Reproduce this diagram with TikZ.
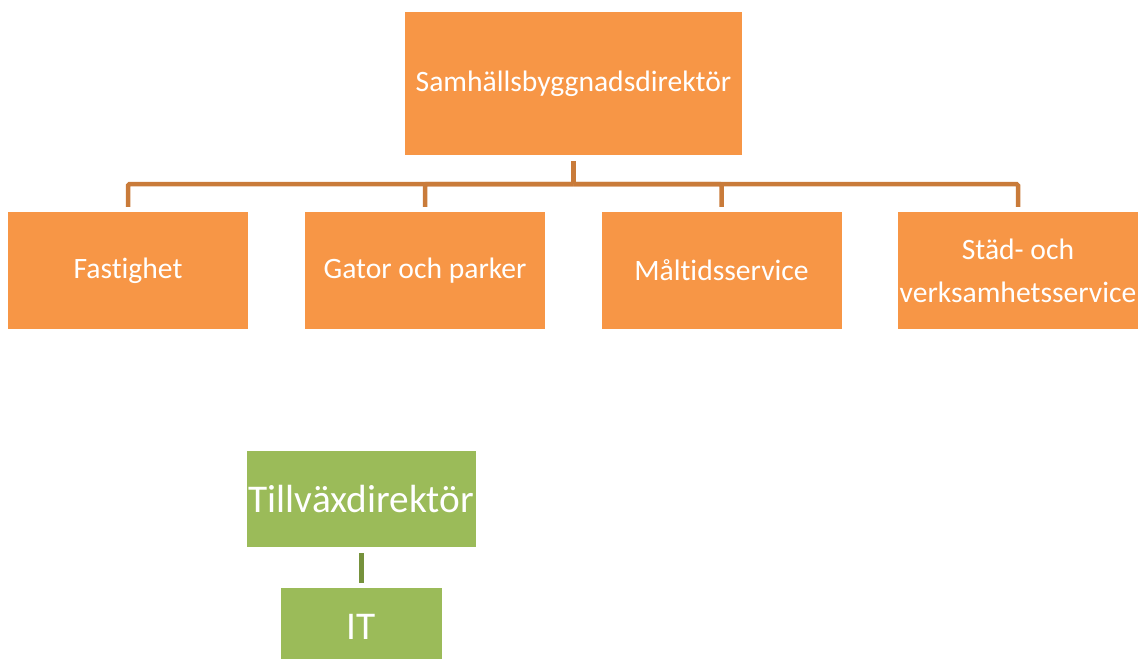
\documentclass[tikz,border=0pt]{standalone}
\usepackage{fontspec}
\setmainfont{Carlito}[Ligatures=NoCommon]
\definecolor{orangebox}{HTML}{F79646}
\definecolor{orangeline}{HTML}{C97B3A}
\definecolor{greenbox}{HTML}{9BBB59}
\definecolor{greenline}{HTML}{76923C}

\begin{document}
\begin{tikzpicture}[x=1pt,y=-1pt,
  obox/.style={fill=orangebox,text=white,inner sep=0pt,align=center,
    font=\fontsize{29.6}{43}\selectfont},
  gbox/.style={fill=greenbox,text=white,inner sep=0pt,align=center,
    font=\fontsize{39.3}{46}\selectfont},
  olink/.style={draw=orangeline,line width=4.5pt,rounded corners=1.5pt},
  glink/.style={draw=greenline,line width=5.5pt}]
  \useasboundingbox (0,0) rectangle (1139,658);
  \clip (0,0) rectangle (1139,658);
  \node[obox,minimum width=337pt,minimum height=143pt] (top) at (573.5,83.5) {Samhällsbyggnadsdirektör};
  \node[obox,minimum width=240pt,minimum height=117pt] (fast) at (128,270.5) {Fastighet};
  \node[obox,minimum width=240pt,minimum height=117pt] (gator) at (425,270.5) {Gator och parker};
  \node[obox,minimum width=240pt,minimum height=117pt] (malt) at (721.5,270.5) {Måltidsservice};
  \node[obox,minimum width=240pt,minimum height=117pt] (stad) at (1018,270.5) {Städ- och\\verksamhetsservice};
  \coordinate (bus) at (573.5,184);
  \draw[olink] ([yshift=-6pt]top.south) -- (bus);
  \draw[olink] (bus) -| ([yshift=5pt]fast.north);
  \draw[olink] (bus) -| ([yshift=5pt]gator.north);
  \draw[olink] (bus) -| ([yshift=5pt]malt.north);
  \draw[olink] (bus) -| ([yshift=5pt]stad.north);
  \node[gbox,minimum width=229pt,minimum height=96pt] (tillv) at (361.5,499) {Tillväxdirektör};
  \node[gbox,minimum width=161pt,minimum height=77pt] (it) at (361.5,626.5) {IT};
  \draw[glink] ([yshift=-6pt]tillv.south) -- ([yshift=5pt]it.north);
\end{tikzpicture}
\end{document}
